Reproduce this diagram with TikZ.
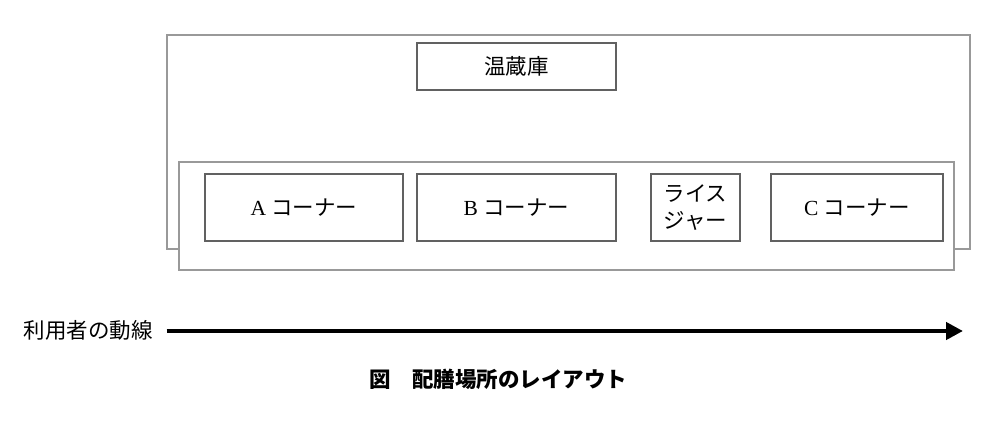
\documentclass[tikz,border=0pt]{standalone}
\usepackage{fontspec}
\setmainfont{Liberation Serif}
\newfontfamily\jp{Noto Sans CJK JP}
\usetikzlibrary{arrows.meta}

\begin{document}
\begin{tikzpicture}[x=1pt, y=-1pt,
    area/.style={draw=black!40, line width=1.8pt},
    spot/.style={draw=black!62, line width=1.3pt, fill=white, inner sep=0pt,
        minimum height=67pt, font=\fontsize{21.5}{27}\selectfont, align=center},
    flowline/.style={line width=4.5pt, -{Triangle[length=17pt, width=17pt]}}]
    \useasboundingbox (0,0) rectangle (1000,425);
    % hall and counter
    \draw [area] (167,35) rectangle (970,249);
    \draw [area, fill=white] (179,162) rectangle (954,270);
    \node [spot, minimum width=199pt, minimum height=47pt] (warmer) at (516.5,66.5) {\jp 温蔵庫};
    \node [spot, minimum width=198pt] (cornerA) at (304,207.5) {A {\jp コーナー}};
    \node [spot, minimum width=199pt] (cornerB) at (516.5,207.5) {B {\jp コーナー}};
    \node [spot, minimum width=89pt] (rice) at (695.5,207.5) {\jp ライス\\\jp ジャー};
    \node [spot, minimum width=172pt] (cornerC) at (857,207.5) {C {\jp コーナー}};
    % flow of users
    \node [inner sep=0pt, font=\fontsize{21.5}{27}\selectfont\jp] (user) at (88,330) {利用者の動線};
    \coordinate (goal) at (963,331);
    \draw [flowline] ([xshift=14pt]user.east |- goal) -- (goal);
    \node [font=\fontsize{21.5}{27}\selectfont\jp\bfseries] (caption) at (498,379) {図　配膳場所のレイアウト};
\end{tikzpicture}
\end{document}
